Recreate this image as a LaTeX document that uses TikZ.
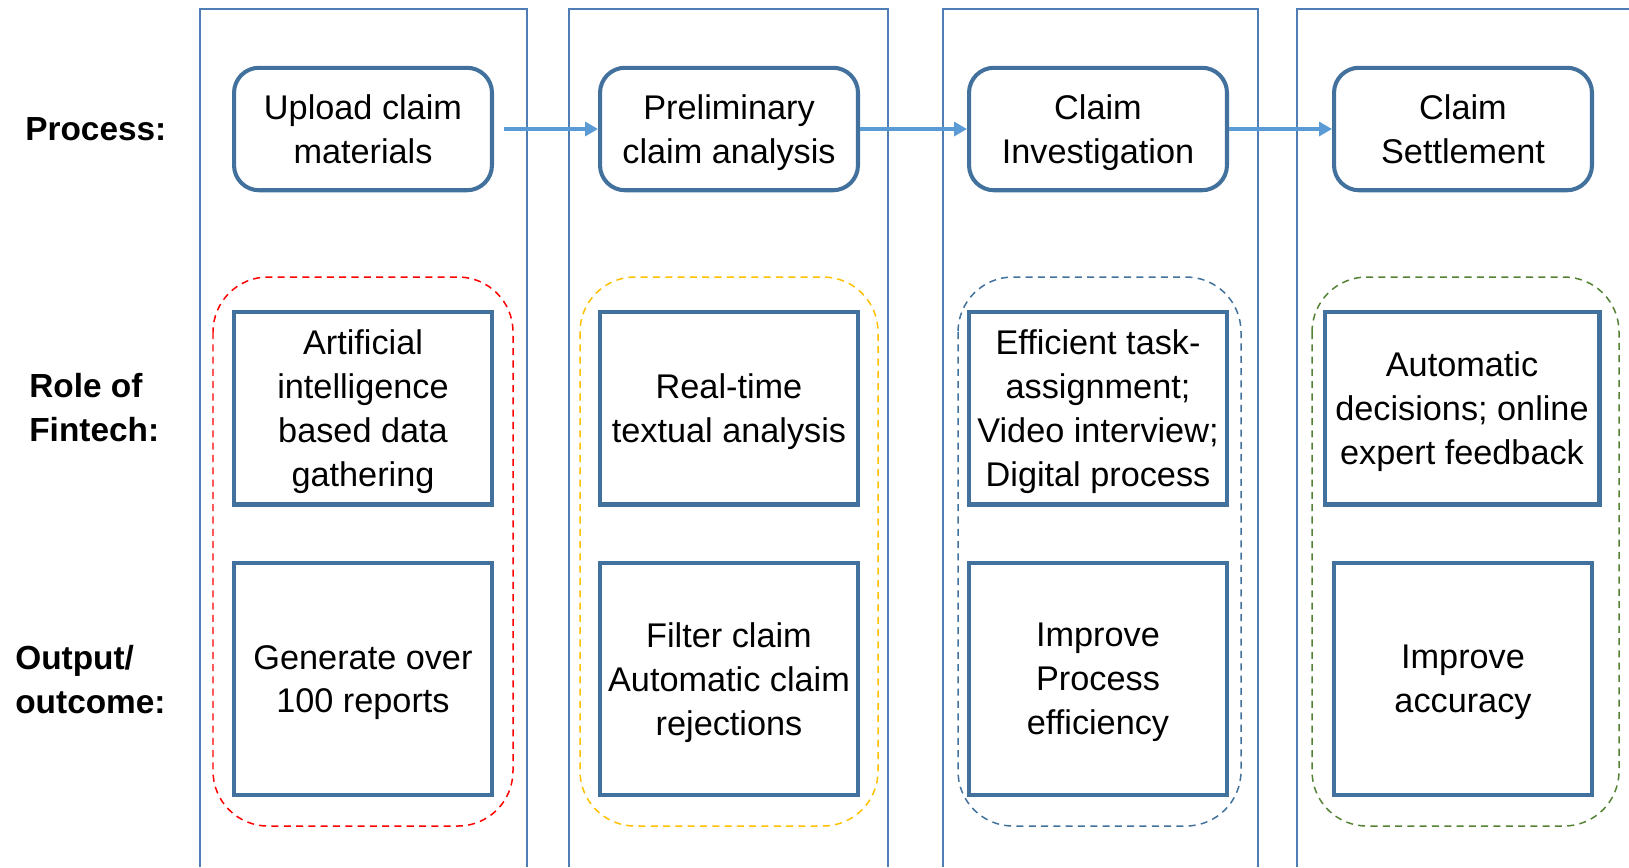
\documentclass[tikz,border=0pt]{standalone}
\usepackage{fontspec}
\setmainfont{Liberation Sans}
\usetikzlibrary{arrows.meta}

\definecolor{boxblue}{HTML}{41719C}
\definecolor{lanecol}{HTML}{4F7DB5}
\definecolor{arrowblue}{HTML}{5B9BD5}
\definecolor{grpred}{HTML}{FF0000}
\definecolor{grpyellow}{HTML}{FFC000}
\definecolor{grpblue}{HTML}{41719C}
\definecolor{grpgreen}{HTML}{548235}

\begin{document}
\begin{tikzpicture}[x=0.02cm, y=-0.02cm,
    every node/.style={font=\fontsize{19.5}{25}\selectfont, align=center, inner sep=2pt},
    lane/.style={draw=lanecol, line width=0.85pt},
    procbox/.style={draw=boxblue, fill=white, line width=2.3pt, rounded corners=0.5cm,
        text depth=0pt, minimum width=5.16cm, minimum height=2.45cm},
    rolebox/.style={draw=boxblue, fill=white, line width=2.3pt,
        text depth=0pt, minimum width=5.16cm, minimum height=3.86cm},
    outbox/.style={draw=boxblue, fill=white, line width=2.3pt,
        text depth=0pt, minimum width=5.16cm, minimum height=4.64cm},
    grp/.style={dash pattern=on 4pt off 3pt, line width=0.85pt, rounded corners=1.1cm},
    flow/.style={draw=arrowblue, line width=2.3pt, -{Triangle[length=0.26cm, width=0.28cm]}},
    rowlabel/.style={anchor=west, align=left, inner sep=0pt,
        font=\fontsize{19}{25}\selectfont\bfseries}]
    \useasboundingbox (0,0) rectangle (1629,867);

    % swim lanes
    \foreach \l/\r in {200/527, 569/888, 943/1258} {
        \draw[lane] (\l,867) |- (\r,9) -- (\r,867);
    };
    \draw[lane] (1297,867) |- (1629,9);

    % dashed groups
    \draw[grp, draw=grpred] (213,277) rectangle (513,826);
    \draw[grp, draw=grpyellow] (580,277) rectangle (878,826);
    \draw[grp, draw=grpblue] (958,277) rectangle (1241,826);
    \draw[grp, draw=grpgreen] (1312,277) rectangle (1619,826);

    % row labels
    \node[rowlabel] (lp) at (25,129) {Process:};
    \node[rowlabel] (lr) at (29,408) {Role of\\Fintech:};
    \node[rowlabel] (lo) at (15,680) {Output/\\outcome:};

    % process
    \node[procbox] (p1) at (363,129) {Upload claim\\materials};
    \node[procbox] (p2) at (729,129) {Preliminary\\claim analysis};
    \node[procbox] (p3) at (1098,129) {Claim\\Investigation};
    \node[procbox] (p4) at (1463,129) {Claim\\Settlement};

    % role of fintech
    \node[rolebox] (r1) at (363,408) {Artificial\\intelligence\\based data\\gathering};
    \node[rolebox] (r2) at (729,408) {Real-time\\textual analysis};
    \node[rolebox] (r3) at (1098,408) {Efficient task-\\assignment;\\Video interview;\\Digital process};
    \node[rolebox, minimum width=5.5cm] (r4) at (1462,408) {Automatic\\decisions; online\\expert feedback};

    % output
    \node[outbox] (o1) at (363,679) {Generate over\\100 reports};
    \node[outbox] (o2) at (729,679) {Filter claim\\Automatic claim\\rejections};
    \node[outbox] (o3) at (1098,679) {Improve\\Process\\efficiency};
    \node[outbox] (o4) at (1463,679) {Improve\\accuracy};

    \draw[flow, shorten <=0.2cm] (p1) -- (p2);
    \draw[flow] (p2) -- (p3);
    \draw[flow] (p3) -- (p4);
\end{tikzpicture}
\end{document}
